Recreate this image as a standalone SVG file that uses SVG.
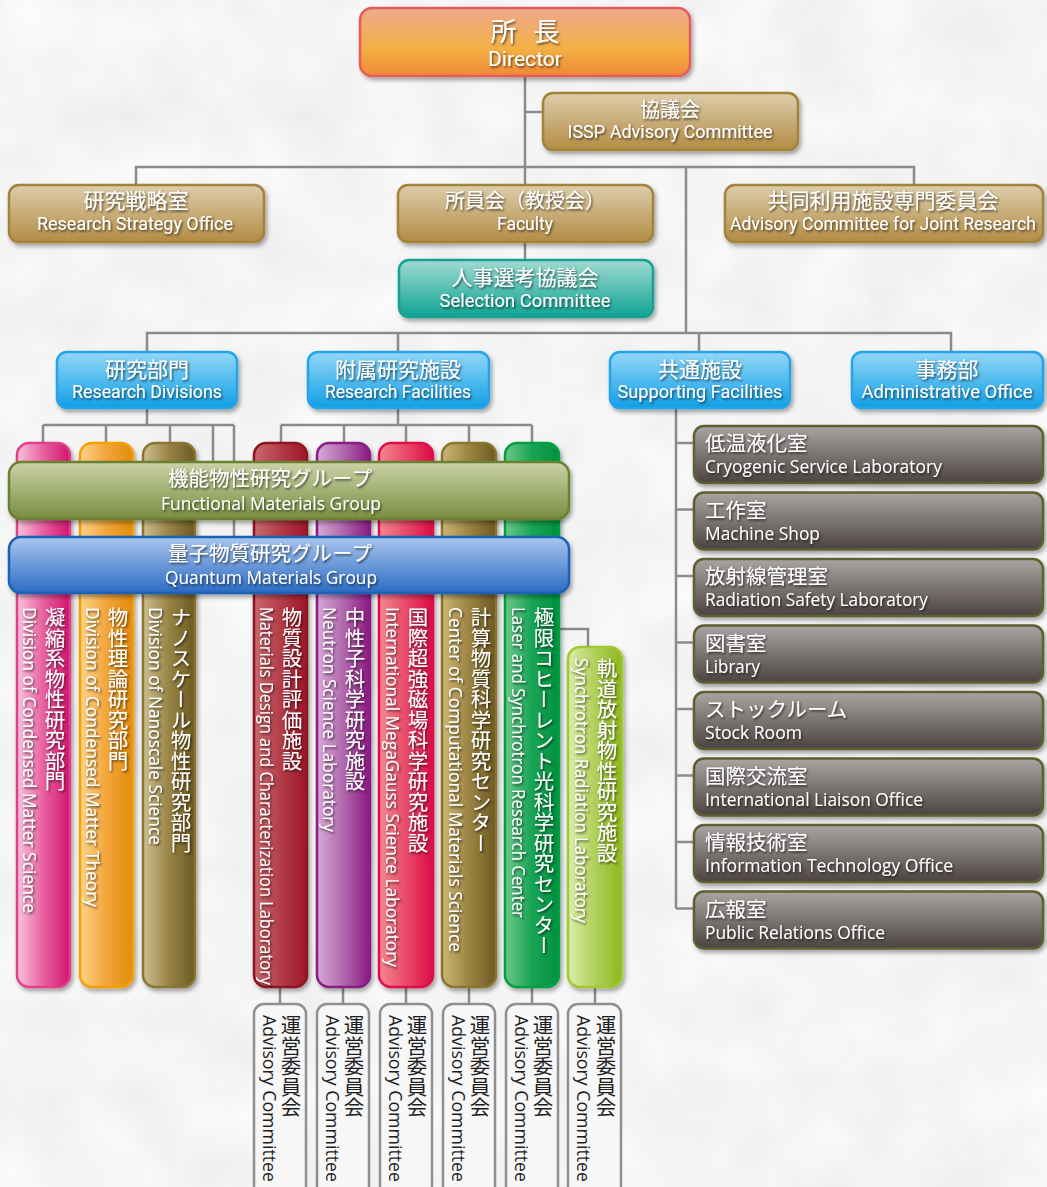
<svg xmlns="http://www.w3.org/2000/svg" width="1047" height="1187" viewBox="0 0 1047 1187">
<defs>
<filter id="tex" x="0" y="0" width="100%" height="100%"><feTurbulence type="fractalNoise" baseFrequency="0.014" numOctaves="3" seed="5"/><feColorMatrix type="matrix" values="0 0 0 0 1 0 0 0 0 1 0 0 0 0 1 0.9 0 0 0 0"/></filter>
<filter id="bs" x="-10%" y="-10%" width="125%" height="130%"><feDropShadow dx="2" dy="3" stdDeviation="2.2" flood-color="#000" flood-opacity="0.35"/></filter>
<filter id="ts" x="-10%" y="-10%" width="120%" height="130%"><feDropShadow dx="1.2" dy="1.6" stdDeviation="0.9" flood-color="#000" flood-opacity="0.65"/></filter>
<linearGradient id="gDir" x1="0" y1="0" x2="0" y2="1"><stop offset="0" stop-color="#eea98e"/><stop offset="0.6" stop-color="#f3b044"/><stop offset="1" stop-color="#ef8838"/></linearGradient>
<linearGradient id="gTan" x1="0" y1="0" x2="0" y2="1"><stop offset="0" stop-color="#ddcdab"/><stop offset="1" stop-color="#b38c44"/></linearGradient>
<linearGradient id="gTeal" x1="0" y1="0" x2="0" y2="1"><stop offset="0" stop-color="#a0dad2"/><stop offset="1" stop-color="#0fa393"/></linearGradient>
<linearGradient id="gBlue" x1="0" y1="0" x2="0" y2="1"><stop offset="0" stop-color="#93d7f7"/><stop offset="1" stop-color="#119fe6"/></linearGradient>
<linearGradient id="gFun" x1="0" y1="0" x2="0" y2="1"><stop offset="0" stop-color="#cbd3a8"/><stop offset="1" stop-color="#798d3f"/></linearGradient>
<linearGradient id="gQua" x1="0" y1="0" x2="0" y2="1"><stop offset="0" stop-color="#aac6ee"/><stop offset="1" stop-color="#2b6bc4"/></linearGradient>
<linearGradient id="gGray" x1="0" y1="0" x2="0" y2="1"><stop offset="0" stop-color="#aaa5a3"/><stop offset="1" stop-color="#4b4341"/></linearGradient>
<linearGradient id="cPink" x1="0" y1="0" x2="1" y2="0"><stop offset="0" stop-color="#f8c4dc"/><stop offset="0.5" stop-color="#e8609f"/><stop offset="1" stop-color="#d2156e"/></linearGradient>
<linearGradient id="cOrange" x1="0" y1="0" x2="1" y2="0"><stop offset="0" stop-color="#fdd38a"/><stop offset="0.5" stop-color="#f3a53a"/><stop offset="1" stop-color="#e28c0e"/></linearGradient>
<linearGradient id="cOlive" x1="0" y1="0" x2="1" y2="0"><stop offset="0" stop-color="#cdbf92"/><stop offset="0.5" stop-color="#988445"/><stop offset="1" stop-color="#6c5a22"/></linearGradient>
<linearGradient id="cDRed" x1="0" y1="0" x2="1" y2="0"><stop offset="0" stop-color="#c96a6e"/><stop offset="0.5" stop-color="#b33d48"/><stop offset="1" stop-color="#9e1628"/></linearGradient>
<linearGradient id="cPurple" x1="0" y1="0" x2="1" y2="0"><stop offset="0" stop-color="#d8a8d8"/><stop offset="0.5" stop-color="#b068ac"/><stop offset="1" stop-color="#8c1882"/></linearGradient>
<linearGradient id="cRed" x1="0" y1="0" x2="1" y2="0"><stop offset="0" stop-color="#f48890"/><stop offset="0.5" stop-color="#e84a68"/><stop offset="1" stop-color="#dc0c4a"/></linearGradient>
<linearGradient id="cOlive2" x1="0" y1="0" x2="1" y2="0"><stop offset="0" stop-color="#cdb574"/><stop offset="0.5" stop-color="#9c8443"/><stop offset="1" stop-color="#6c5a22"/></linearGradient>
<linearGradient id="cGreen" x1="0" y1="0" x2="1" y2="0"><stop offset="0" stop-color="#6cc88a"/><stop offset="0.5" stop-color="#18a455"/><stop offset="1" stop-color="#00913f"/></linearGradient>
<linearGradient id="cLGreen" x1="0" y1="0" x2="1" y2="0"><stop offset="0" stop-color="#dcecaa"/><stop offset="0.5" stop-color="#b0d05a"/><stop offset="1" stop-color="#8db820"/></linearGradient>
</defs>
<style>
.jp{font-family:"Noto Sans CJK JP",sans-serif;fill:#fff}
.en{font-family:Roboto,"Liberation Sans",sans-serif;fill:#fff}
.enr{font-family:"Open Sans","Liberation Sans",sans-serif;fill:#fff}
.c{text-anchor:middle}
.v{writing-mode:vertical-rl}
.ln{stroke:#8b8b8b;stroke-width:2.5;fill:none}
.bx{stroke-width:2.5}
.dk{fill:#1e1e1e}
</style>
<rect width="1047" height="1187" fill="#ececec"/>
<rect width="1047" height="1187" filter="url(#tex)"/>

<g id="connectors">
<path class="ln" d="M525 76V185 M525 112H543 M136 185V167H914V185 M686 167V333 M525 242V260 M147 352V333H951V352 M398 333V352 M699 333V352 M147 408V425 M43 425H234 M43 425V443 M106 425V443 M170 425V443 M213 425V462 M234 425V537 M398 408V425 M281 425H532 M281 425V443 M344 425V443 M406 425V443 M469 425V443 M532 425V443 M559 629H588V647 M676 408V908.5 M676 443H694 M676 509.5H694 M676 576H694 M676 642.5H694 M676 709H694 M676 775.5H694 M676 842H694 M676 908.5H694 M280 987V1004 M343 987V1004 M406 987V1004 M469 987V1004 M532 987V1004 M595 987V1004"/>
</g>

<g id="director">
<rect x="360" y="8" width="330" height="68" rx="12" fill="url(#gDir)" stroke="#e65b5b" class="bx" filter="url(#bs)"/>
<g filter="url(#ts)"><text class="jp c" x="525" y="41" font-size="26" textLength="69" lengthAdjust="spacing">所 長</text>
<text class="en c" x="525" y="66" font-size="20" textLength="74" lengthAdjust="spacingAndGlyphs">Director</text></g>
</g>

<g id="issp-advisory">
<rect x="543" y="93" width="255" height="57" rx="10" fill="url(#gTan)" stroke="#a3823a" class="bx" filter="url(#bs)"/>
<g filter="url(#ts)"><text class="jp c" x="670" y="117" font-size="20">協議会</text>
<text class="en c" x="670" y="138" font-size="18.5" textLength="205" lengthAdjust="spacingAndGlyphs">ISSP Advisory Committee</text></g>
</g>

<g id="research-strategy">
<rect x="9" y="185" width="255" height="57" rx="10" fill="url(#gTan)" stroke="#a3823a" class="bx" filter="url(#bs)"/>
<g filter="url(#ts)"><text class="jp c" x="136" y="208" font-size="21">研究戦略室</text>
<text class="en c" x="135" y="230" font-size="18.5" textLength="196" lengthAdjust="spacingAndGlyphs">Research Strategy Office</text></g>
</g>

<g id="faculty">
<rect x="398" y="185" width="255" height="57" rx="10" fill="url(#gTan)" stroke="#a3823a" class="bx" filter="url(#bs)"/>
<g filter="url(#ts)"><text class="jp c" x="525" y="208" font-size="20">所員会（教授会）</text>
<text class="en c" x="525" y="230" font-size="18.5" textLength="56" lengthAdjust="spacingAndGlyphs">Faculty</text></g>
</g>

<g id="joint-research">
<rect x="725" y="185" width="318" height="57" rx="10" fill="url(#gTan)" stroke="#a3823a" class="bx" filter="url(#bs)"/>
<g filter="url(#ts)"><text class="jp c" x="883" y="208" font-size="21">共同利用施設専門委員会</text>
<text class="en c" x="883" y="230" font-size="18.5" textLength="306" lengthAdjust="spacingAndGlyphs">Advisory Committee for Joint Research</text></g>
</g>

<g id="selection">
<rect x="399" y="260" width="254" height="57" rx="10" fill="url(#gTeal)" stroke="#12a292" class="bx" filter="url(#bs)"/>
<g filter="url(#ts)"><text class="jp c" x="525" y="285" font-size="21">人事選考協議会</text>
<text class="en c" x="525" y="307" font-size="18.5" textLength="171" lengthAdjust="spacingAndGlyphs">Selection Committee</text></g>
</g>

<g id="research-divisions">
<rect x="57" y="352" width="180" height="56" rx="10" fill="url(#gBlue)" stroke="#25a4e8" class="bx" filter="url(#bs)"/>
<g filter="url(#ts)"><text class="jp c" x="147" y="377" font-size="21">研究部門</text>
<text class="en c" x="147" y="398" font-size="18.5" textLength="150" lengthAdjust="spacingAndGlyphs">Research Divisions</text></g>
</g>

<g id="research-facilities">
<rect x="308" y="352" width="181" height="56" rx="10" fill="url(#gBlue)" stroke="#25a4e8" class="bx" filter="url(#bs)"/>
<g filter="url(#ts)"><text class="jp c" x="398" y="377" font-size="21">附属研究施設</text>
<text class="en c" x="398" y="398" font-size="18.5" textLength="146" lengthAdjust="spacingAndGlyphs">Research Facilities</text></g>
</g>

<g id="supporting-facilities">
<rect x="610" y="352" width="180" height="56" rx="10" fill="url(#gBlue)" stroke="#25a4e8" class="bx" filter="url(#bs)"/>
<g filter="url(#ts)"><text class="jp c" x="700" y="377" font-size="21">共通施設</text>
<text class="en c" x="700" y="398" font-size="18.5" textLength="165" lengthAdjust="spacingAndGlyphs">Supporting Facilities</text></g>
</g>

<g id="administrative-office">
<rect x="852" y="352" width="191" height="56" rx="10" fill="url(#gBlue)" stroke="#25a4e8" class="bx" filter="url(#bs)"/>
<g filter="url(#ts)"><text class="jp c" x="947" y="377" font-size="21">事務部</text>
<text class="en c" x="947" y="398" font-size="18.5" textLength="171" lengthAdjust="spacingAndGlyphs">Administrative Office</text></g>
</g>

<g id="col-condensed">
<rect x="17" y="443" width="53" height="544" rx="12" fill="url(#cPink)" stroke="#e0408a" class="bx" filter="url(#bs)"/>
<g filter="url(#ts)"><text class="jp v" x="55" y="607" font-size="20.5">凝縮系物性研究部門</text>
<text class="enr" transform="translate(23,607) rotate(90)" font-size="18" textLength="306" lengthAdjust="spacingAndGlyphs">Division of Condensed Matter Science</text></g>
</g>

<g id="col-theory">
<rect x="80" y="443" width="53" height="544" rx="12" fill="url(#cOrange)" stroke="#f3a000" class="bx" filter="url(#bs)"/>
<g filter="url(#ts)"><text class="jp v" x="118" y="607" font-size="20.5">物性理論研究部門</text>
<text class="enr" transform="translate(86,607) rotate(90)" font-size="18" textLength="300" lengthAdjust="spacingAndGlyphs">Division of Condensed Matter Theory</text></g>
</g>

<g id="col-nanoscale">
<rect x="143" y="443" width="52" height="544" rx="12" fill="url(#cOlive)" stroke="#8a7530" class="bx" filter="url(#bs)"/>
<g filter="url(#ts)"><text class="jp v" x="181" y="607" font-size="20.5">ナノスケール物性研究部門</text>
<text class="enr" transform="translate(149,607) rotate(90)" font-size="18" textLength="238" lengthAdjust="spacingAndGlyphs">Division of Nanoscale Science</text></g>
</g>

<g id="col-mdcl">
<rect x="254" y="443" width="53" height="544" rx="12" fill="url(#cDRed)" stroke="#8e1222" class="bx" filter="url(#bs)"/>
<g filter="url(#ts)"><text class="jp v" x="292" y="607" font-size="20.5">物質設計評価施設</text>
<text class="enr" transform="translate(260,607) rotate(90)" font-size="18" textLength="378" lengthAdjust="spacingAndGlyphs">Materials Design and Characterization Laboratory</text></g>
</g>

<g id="col-neutron">
<rect x="317" y="443" width="53" height="544" rx="12" fill="url(#cPurple)" stroke="#8a1a88" class="bx" filter="url(#bs)"/>
<g filter="url(#ts)"><text class="jp v" x="355" y="607" font-size="20.5">中性子科学研究施設</text>
<text class="enr" transform="translate(323,607) rotate(90)" font-size="18" textLength="225" lengthAdjust="spacingAndGlyphs">Neutron Science Laboratory</text></g>
</g>

<g id="col-megagauss">
<rect x="379" y="443" width="54" height="544" rx="12" fill="url(#cRed)" stroke="#df0f4a" class="bx" filter="url(#bs)"/>
<g filter="url(#ts)"><text class="jp v" x="418" y="607" font-size="20.5">国際超強磁場科学研究施設</text>
<text class="enr" transform="translate(386,607) rotate(90)" font-size="18" textLength="360" lengthAdjust="spacingAndGlyphs">International MegaGauss Science Laboratory</text></g>
</g>

<g id="col-computational">
<rect x="442" y="443" width="54" height="544" rx="12" fill="url(#cOlive2)" stroke="#8a7530" class="bx" filter="url(#bs)"/>
<g filter="url(#ts)"><text class="jp v" x="481" y="607" font-size="20.5">計算物質科学研究センター</text>
<text class="enr" transform="translate(449,607) rotate(90)" font-size="18" textLength="345" lengthAdjust="spacingAndGlyphs">Center of Computational Materials Science</text></g>
</g>

<g id="col-laser">
<rect x="505" y="443" width="54" height="544" rx="12" fill="url(#cGreen)" stroke="#00a040" class="bx" filter="url(#bs)"/>
<g filter="url(#ts)"><text class="jp v" x="544" y="607" font-size="20.5">極限コヒーレント光科学研究センター</text>
<text class="enr" transform="translate(512,607) rotate(90)" font-size="18" textLength="311" lengthAdjust="spacingAndGlyphs">Laser and Synchrotron Research Center</text></g>
</g>

<g id="col-synchrotron">
<rect x="568" y="647" width="54" height="340" rx="12" fill="url(#cLGreen)" stroke="#a0c830" class="bx" filter="url(#bs)"/>
<g filter="url(#ts)"><text class="jp v" x="607" y="658" font-size="20.5">軌道放射物性研究施設</text>
<text class="enr" transform="translate(575,658) rotate(90)" font-size="18" textLength="265" lengthAdjust="spacingAndGlyphs">Synchrotron Radiation Laboratory</text></g>
</g>

<g id="functional-group">
<rect x="9" y="462" width="560" height="57" rx="12" fill="url(#gFun)" stroke="#6a8133" class="bx" filter="url(#bs)"/>
<g filter="url(#ts)"><text class="jp c" x="270" y="486" font-size="20.5">機能物性研究グループ</text>
<text class="enr c" x="271" y="510" font-size="18" textLength="220" lengthAdjust="spacingAndGlyphs">Functional Materials Group</text></g>
</g>

<g id="quantum-group">
<rect x="9" y="537" width="560" height="56" rx="12" fill="url(#gQua)" stroke="#1a62b4" class="bx" filter="url(#bs)"/>
<g filter="url(#ts)"><text class="jp c" x="270" y="561" font-size="20.5">量子物質研究グループ</text>
<text class="enr c" x="271" y="584" font-size="18" textLength="212" lengthAdjust="spacingAndGlyphs">Quantum Materials Group</text></g>
</g>

<g id="cryogenic">
<rect x="694" y="426" width="349" height="57" rx="10" fill="url(#gGray)" stroke="#5f6030" class="bx" filter="url(#bs)"/>
<g filter="url(#ts)"><text class="jp" x="705" y="451" font-size="20.5">低温液化室</text>
<text class="enr" x="705" y="473" font-size="18" textLength="237" lengthAdjust="spacingAndGlyphs">Cryogenic Service Laboratory</text></g>
</g>
<g id="machine-shop">
<rect x="694" y="492.5" width="349" height="57" rx="10" fill="url(#gGray)" stroke="#5f6030" class="bx" filter="url(#bs)"/>
<g filter="url(#ts)"><text class="jp" x="705" y="517.5" font-size="20.5">工作室</text>
<text class="enr" x="705" y="539.5" font-size="18" textLength="115" lengthAdjust="spacingAndGlyphs">Machine Shop</text></g>
</g>
<g id="radiation-safety">
<rect x="694" y="559" width="349" height="57" rx="10" fill="url(#gGray)" stroke="#5f6030" class="bx" filter="url(#bs)"/>
<g filter="url(#ts)"><text class="jp" x="705" y="584" font-size="20.5">放射線管理室</text>
<text class="enr" x="705" y="606" font-size="18" textLength="223" lengthAdjust="spacingAndGlyphs">Radiation Safety Laboratory</text></g>
</g>
<g id="library">
<rect x="694" y="625.5" width="349" height="57" rx="10" fill="url(#gGray)" stroke="#5f6030" class="bx" filter="url(#bs)"/>
<g filter="url(#ts)"><text class="jp" x="705" y="650.5" font-size="20.5">図書室</text>
<text class="enr" x="705" y="672.5" font-size="18" textLength="55" lengthAdjust="spacingAndGlyphs">Library</text></g>
</g>
<g id="stock-room">
<rect x="694" y="692" width="349" height="57" rx="10" fill="url(#gGray)" stroke="#5f6030" class="bx" filter="url(#bs)"/>
<g filter="url(#ts)"><text class="jp" x="705" y="717" font-size="20.5">ストックルーム</text>
<text class="enr" x="705" y="739" font-size="18" textLength="97" lengthAdjust="spacingAndGlyphs">Stock Room</text></g>
</g>
<g id="liaison">
<rect x="694" y="758.5" width="349" height="57" rx="10" fill="url(#gGray)" stroke="#5f6030" class="bx" filter="url(#bs)"/>
<g filter="url(#ts)"><text class="jp" x="705" y="783.5" font-size="20.5">国際交流室</text>
<text class="enr" x="705" y="805.5" font-size="18" textLength="218" lengthAdjust="spacingAndGlyphs">International Liaison Office</text></g>
</g>
<g id="info-tech">
<rect x="694" y="825" width="349" height="57" rx="10" fill="url(#gGray)" stroke="#5f6030" class="bx" filter="url(#bs)"/>
<g filter="url(#ts)"><text class="jp" x="705" y="850" font-size="20.5">情報技術室</text>
<text class="enr" x="705" y="872" font-size="18" textLength="248" lengthAdjust="spacingAndGlyphs">Information Technology Office</text></g>
</g>
<g id="public-relations">
<rect x="694" y="891.5" width="349" height="57" rx="10" fill="url(#gGray)" stroke="#5f6030" class="bx" filter="url(#bs)"/>
<g filter="url(#ts)"><text class="jp" x="705" y="916.5" font-size="20.5">広報室</text>
<text class="enr" x="705" y="938.5" font-size="18" textLength="180" lengthAdjust="spacingAndGlyphs">Public Relations Office</text></g>
</g>

<g id="adv-1"><rect x="254" y="1004" width="52" height="200" rx="10" fill="#f7f7f7" stroke="#8f8f8f" class="bx"/>
<text class="jp dk v" x="291" y="1015" font-size="20.5">運営委員会</text>
<text class="enr dk" transform="translate(263,1015) rotate(90)" font-size="18" textLength="167" lengthAdjust="spacingAndGlyphs">Advisory Committee</text></g>
<g id="adv-2"><rect x="317" y="1004" width="52" height="200" rx="10" fill="#f7f7f7" stroke="#8f8f8f" class="bx"/>
<text class="jp dk v" x="354" y="1015" font-size="20.5">運営委員会</text>
<text class="enr dk" transform="translate(326,1015) rotate(90)" font-size="18" textLength="167" lengthAdjust="spacingAndGlyphs">Advisory Committee</text></g>
<g id="adv-3"><rect x="380" y="1004" width="52" height="200" rx="10" fill="#f7f7f7" stroke="#8f8f8f" class="bx"/>
<text class="jp dk v" x="417" y="1015" font-size="20.5">運営委員会</text>
<text class="enr dk" transform="translate(389,1015) rotate(90)" font-size="18" textLength="167" lengthAdjust="spacingAndGlyphs">Advisory Committee</text></g>
<g id="adv-4"><rect x="443" y="1004" width="52" height="200" rx="10" fill="#f7f7f7" stroke="#8f8f8f" class="bx"/>
<text class="jp dk v" x="480" y="1015" font-size="20.5">運営委員会</text>
<text class="enr dk" transform="translate(452,1015) rotate(90)" font-size="18" textLength="167" lengthAdjust="spacingAndGlyphs">Advisory Committee</text></g>
<g id="adv-5"><rect x="506" y="1004" width="52" height="200" rx="10" fill="#f7f7f7" stroke="#8f8f8f" class="bx"/>
<text class="jp dk v" x="543" y="1015" font-size="20.5">運営委員会</text>
<text class="enr dk" transform="translate(515,1015) rotate(90)" font-size="18" textLength="167" lengthAdjust="spacingAndGlyphs">Advisory Committee</text></g>
<g id="adv-6"><rect x="568" y="1004" width="53" height="200" rx="10" fill="#f7f7f7" stroke="#8f8f8f" class="bx"/>
<text class="jp dk v" x="606" y="1015" font-size="20.5">運営委員会</text>
<text class="enr dk" transform="translate(577,1015) rotate(90)" font-size="18" textLength="167" lengthAdjust="spacingAndGlyphs">Advisory Committee</text></g>
</svg>
